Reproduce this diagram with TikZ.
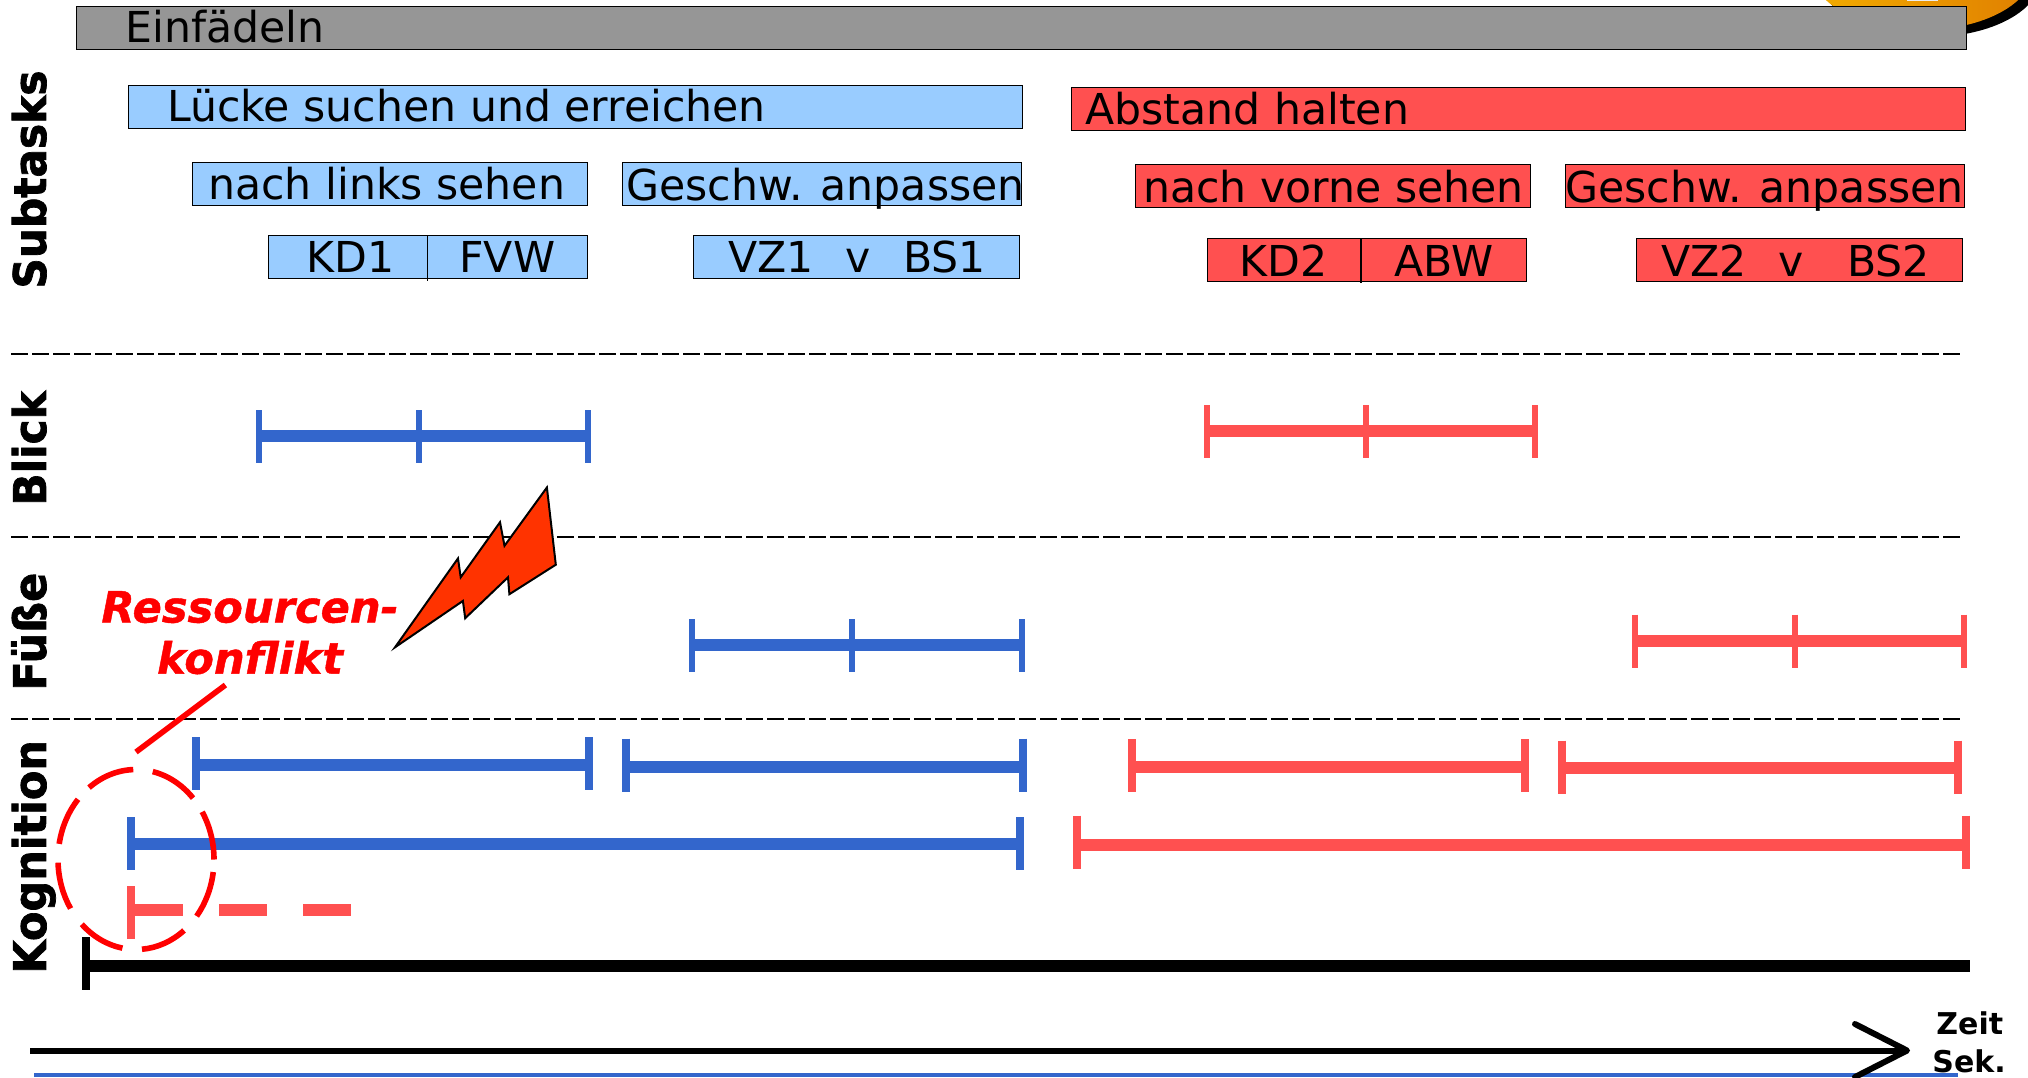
\documentclass[tikz,border=0pt]{standalone}
\usepackage{fontspec}
\setmainfont{DejaVu Sans}
\newfontface\sidefont[FakeBold=1.6]{DejaVu Sans Bold}
\newfontface\konffont[FakeBold=1.0]{DejaVu Sans Bold Oblique}
\usetikzlibrary{positioning}
\definecolor{gbar}{HTML}{969696}
\definecolor{bbox}{HTML}{99CCFF}
\definecolor{rbox}{HTML}{FF5050}
\definecolor{bblue}{HTML}{3366CC}
\definecolor{boltc}{HTML}{FF3300}
\definecolor{orA}{HTML}{F2AC00}
\definecolor{orB}{HTML}{E07F00}
\tikzset{
 x=0.5pt,y=-0.5pt,
 tbox/.style={draw=black,line width=0.8pt,inner sep=0pt,outer sep=0pt,anchor=north west,xshift=.25pt,yshift=-.25pt},
 lbl/.style={anchor=base west,inner sep=0pt,font=\fontsize{21.3}{21.3}\selectfont},
 side/.style={anchor=base west,rotate=90,inner sep=0pt,font=\fontsize{22.5}{22.5}\sidefont},
 zeit/.style={anchor=base west,inner sep=0pt,font=\fontsize{15}{15}\selectfont\bfseries},
 konf/.style={anchor=base,inner sep=0pt,text=red,font=\fontsize{21.6}{21.6}\konffont},
 barline/.style={line width=6pt},
 thintick/.style={line width=3.2pt},
 widetick/.style={line width=4pt},
 sep/.style={line width=1pt,dash pattern=on 8.4pt off 2.1pt},
 circ/.style={draw=red,line width=2.8pt},
}
% colour, tick style, tick x list, line y, tick centre y, x1, x2
\newcommand{\tbar}[7]{%
 \draw[barline,#1] (#6,#4) -- (#7,#4);
 \foreach \tx in {#3} \draw[#2,#1] (\tx,#5-26.5) -- (\tx,#5+26.5);
}
\begin{document}
\begin{tikzpicture}
\useasboundingbox (0,0) rectangle (2028,1077);
\clip (0,0) rectangle (2028,1077);
% orange blob
\fill[black] (1930,-23) ellipse [x radius=111,y radius=60];
\shade[left color=orA,right color=orB] (1922,-30) ellipse [x radius=111,y radius=60];
\fill[white!85!gray] (1907,-2) rectangle (1938,1);
% bars of boxes
\node[tbox,fill=gbar,minimum width=1890*0.5pt,minimum height=43*0.5pt] (einf) at (76,6) {};
\node[tbox,fill=bbox,minimum width=894*0.5pt,minimum height=43*0.5pt] (luecke) at (128,85) {};
\node[tbox,fill=rbox,minimum width=894*0.5pt,minimum height=43*0.5pt] (abst) at (1071,87) {};
\node[tbox,fill=bbox,minimum width=395*0.5pt,minimum height=43*0.5pt] (links) at (192,162) {};
\node[tbox,fill=bbox,minimum width=399*0.5pt,minimum height=43*0.5pt] (gesA) at (622,162) {};
\node[tbox,fill=rbox,minimum width=395*0.5pt,minimum height=43*0.5pt] (vorne) at (1135,164) {};
\node[tbox,fill=rbox,minimum width=399*0.5pt,minimum height=43*0.5pt] (gesB) at (1565,164) {};
\node[tbox,fill=bbox,minimum width=319*0.5pt,minimum height=43*0.5pt] (kdA) at (268,235) {};
\node[tbox,fill=bbox,minimum width=326*0.5pt,minimum height=43*0.5pt] (vzA) at (693,235) {};
\node[tbox,fill=rbox,minimum width=319*0.5pt,minimum height=43*0.5pt] (kdB) at (1207,238) {};
\node[tbox,fill=rbox,minimum width=326*0.5pt,minimum height=43*0.5pt] (vzB) at (1636,238) {};
\draw[line width=0.75pt] (427.5,235) -- (427.5,281);
\draw[line width=0.75pt] (1361,238) -- (1361,283);
% box labels
\node[lbl] (t1) at (125,42) {Einfädeln};
\node[lbl] (t2) at (167,121) {Lücke suchen und erreichen};
\node[lbl] (t3) at (1085,124) {Abstand halten};
\node[lbl] (t4) at (208,199.5) {nach links sehen};
\node[lbl] (t5) at (626,200) {Geschw. anpassen};
\node[lbl] (t6) at (1143,202) {nach vorne sehen};
\node[lbl] (t7) at (1565,202) {Geschw. anpassen};
\node[lbl] (t8) at (306,272.5) {KD1};
\node[lbl] (t9) at (459,272.5) {FVW};
\node[lbl] (t10) at (728,272.5) {VZ1};
\node[lbl] (t11) at (845,272.5) {v};
\node[lbl] (t12) at (903,272.5) {BS1};
\node[lbl] (t13) at (1239,276) {KD2};
\node[lbl] (t14) at (1394,276) {ABW};
\node[lbl] (t15) at (1661,276) {VZ2};
\node[lbl] (t16) at (1778,276) {v};
\node[lbl] (t17) at (1847,276) {BS2};
% side labels
\node[side] (s1) at (46,289) {\scalebox{.94}[1]{Subtasks}};
\node[side] (s2) at (46,506) {\scalebox{.94}[1]{Blick}};
\node[side] (s3) at (46,691) {\scalebox{.955}[1]{Füße}};
\node[side] (s4) at (46,974) {\scalebox{.955}[1]{Kognition}};
% separators
\draw[sep] (11,354) -- (1960,354);
\draw[sep] (11,537) -- (1960,537);
\draw[sep] (11,719) -- (1960,719);
% timeline bars
\tbar{bblue}{thintick}{259,419,588}{436}{436.5}{259}{588}
\tbar{rbox}{thintick}{1207,1366,1535}{431}{431.5}{1207}{1535}
\tbar{bblue}{thintick}{692,852,1022}{645}{645.5}{692}{1022}
\tbar{rbox}{thintick}{1635,1795,1964}{640.7}{641}{1635}{1964}
\tbar{bblue}{widetick}{195.5,588.5}{765}{763.5}{195.5}{588.5}
\tbar{bblue}{widetick}{625.5,1023}{766.5}{765}{625.5}{1023}
\tbar{rbox}{widetick}{1132,1525}{767}{765.5}{1132}{1525}
\tbar{rbox}{widetick}{1561.5,1958}{768}{767}{1561.5}{1958}
\tbar{bblue}{widetick}{131,1020}{844}{843.5}{131}{1020}
\tbar{rbox}{widetick}{1077,1966}{844.5}{842}{1077}{1966}
% dashed red bar
\draw[widetick,rbox] (131,886) -- (131,939);
\foreach \a/\b in {131/183,219/267,303/351} \draw[barline,rbox] (\a,909.5) -- (\b,909.5);
% black axis
\tbar{black}{widetick}{86}{965.5}{963.5}{86}{1970}
% bottom
\fill[bblue] (34,1073) rectangle (1958,1077);
\coordinate (arrA) at (30,1050.5);
\coordinate (arrT) at (1907,1050.5);
\draw[line width=3pt] (arrA) -- (arrT);
\draw[line width=3pt,line cap=round,line join=round] (1855,1024) -- (arrT) -- (1855,1077);
\node[zeit] (z1) at (1936,1034) {Zeit};
\node[zeit] (z2) at (1932,1072) {Sek.};
% bolt
\draw[fill=boltc,line width=1pt,line join=miter] (395,647.3) -- (458,558.4) -- (460.7,577.3) -- (500,522.2) -- (504.5,545.8) -- (546.9,487.5) -- (555.8,564.7) -- (509.4,594.2) -- (508,577.3) -- (465.2,618.2) -- (462.9,600.9) -- cycle;
% conflict label
\node[konf] (k1) at (250,622.5) {Ressourcen-};
\node[konf] (k2) at (250,673.7) {konflikt};
\coordinate (cE) at (136,752);
\draw[circ] (225.4,685) -- (cE);
\foreach \s/\e in {-77.6/-43,-32/0,8/39,52/85.6,100/134,147/178,190/222,233/268}
 \draw[circ] ({136+78*cos(\s)},{859.5+90*sin(\s)}) arc[start angle=\s,end angle=\e,x radius=78,y radius=90];
\end{tikzpicture}
\end{document}
